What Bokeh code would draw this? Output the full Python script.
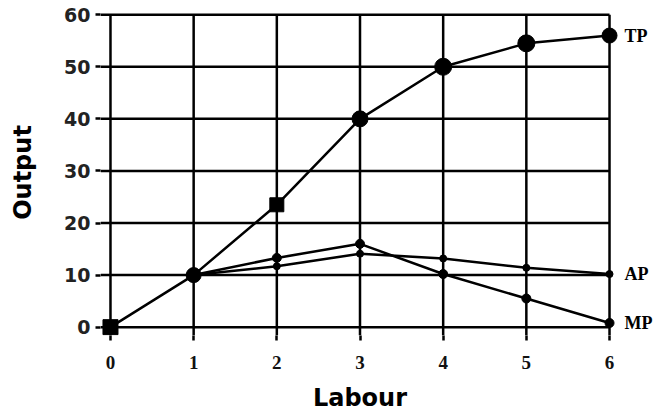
from bokeh.plotting import figure
from bokeh.models import Range1d, FixedTicker, ColumnDataSource, LinearAxis
from bokeh.embed import file_html
from bokeh.resources import INLINE

# ---- data ----
labour = [0, 1, 2, 3, 4, 5, 6]
tp = [0, 10, 23.5, 40, 50, 54.5, 56]
tp_markers = ["square", "circle", "square", "circle", "circle", "circle", "circle"]
tp_sizes = [15, 15, 14, 16, 17, 17, 15]
labour_apmp = [1, 2, 3, 4, 5, 6]
ap = [10, 11.7, 14.1, 13.2, 11.4, 10.2]
mp = [10, 13.3, 16.0, 10.2, 5.5, 0.8]
x_ticks = [0, 1, 2, 3, 4, 5, 6]
y_ticks = [0, 10, 20, 30, 40, 50, 60]
curve_names = ["TP", "AP", "MP"]

# ---- layout ----
X0, X1 = -0.12, 6.12
Y0, Y1 = -1.6, 61.0

p = figure(width=655, height=414, x_range=Range1d(X0, X1), y_range=Range1d(Y0, Y1),
           output_backend="svg", toolbar_location=None,
           min_border_left=100, min_border_right=35, min_border_top=9, min_border_bottom=79)
p.outline_line_color = None
p.grid.visible = False
p.background_fill_color = "white"

# grid lines drawn from the tick lists
xmax, ymax = max(x_ticks), max(y_ticks)
p.segment(x0=[X0] * len(y_ticks), y0=y_ticks, x1=[xmax] * len(y_ticks), y1=y_ticks,
          line_color="black", line_width=2.5)
p.segment(x0=x_ticks, y0=[Y0] * len(x_ticks), x1=x_ticks, y1=[ymax] * len(x_ticks),
          line_color="black", line_width=2.5)

# axes
p.xaxis.ticker = FixedTicker(ticks=x_ticks)
p.yaxis.ticker = FixedTicker(ticks=y_ticks)
for ax in (p.xaxis[0], p.yaxis[0]):
    ax.axis_line_color = None
    ax.major_tick_in = 0
    ax.major_tick_out = 5
    ax.major_tick_line_width = 2.5
    ax.major_tick_line_color = "black"
    ax.minor_tick_line_color = None
    ax.major_label_text_font_style = "bold"
    ax.axis_label_text_font = "DejaVu Sans"
    ax.axis_label_text_font_style = "bold"
    ax.axis_label_text_color = "black"

p.xaxis.major_label_text_font = "Liberation Serif"
p.xaxis.major_label_text_font_size = "19px"
p.xaxis.major_label_text_color = "#111111"
p.xaxis.major_label_standoff = 15
p.xaxis.axis_label = "Labour"
p.xaxis.axis_label_text_font_size = "24px"
p.xaxis.axis_label_standoff = 12

p.yaxis.major_label_text_font = "DejaVu Sans"
p.yaxis.major_label_text_font_size = "19px"
p.yaxis.major_label_text_color = "#222222"
p.yaxis.major_label_standoff = 5
p.yaxis.axis_label = "Output"
p.yaxis.axis_label_text_font_size = "24px"
p.yaxis.axis_label_standoff = 24

# curves
p.line(labour, tp, line_color="black", line_width=2.5)
p.line(labour_apmp, ap, line_color="black", line_width=2.5)
p.line(labour_apmp, mp, line_color="black", line_width=2.5)

tp_src = ColumnDataSource(dict(x=labour, y=tp, m=tp_markers, s=tp_sizes))
p.scatter("x", "y", marker="m", size="s", source=tp_src, color="black")
p.scatter(labour_apmp, ap, size=7, color="black")
p.scatter(labour_apmp, mp, size=9, color="black")

# curve labels as a right-hand axis with ticks at each curve's final value
ends = [tp[-1], ap[-1], mp[-1]]
right = LinearAxis(ticker=FixedTicker(ticks=ends),
                   major_label_overrides={v: n for v, n in zip(ends, curve_names)})
right.axis_line_color = None
right.major_tick_line_color = None
right.major_tick_in = 0
right.major_tick_out = 0
right.minor_tick_line_color = None
right.minor_tick_in = 0
right.minor_tick_out = 0
right.major_label_standoff = 5
right.major_label_text_font = "Liberation Serif"
right.major_label_text_font_style = "bold"
right.major_label_text_font_size = "18px"
right.major_label_text_color = "black"
p.add_layout(right, "right")

open("out.html", "w").write(file_html(p, INLINE))
